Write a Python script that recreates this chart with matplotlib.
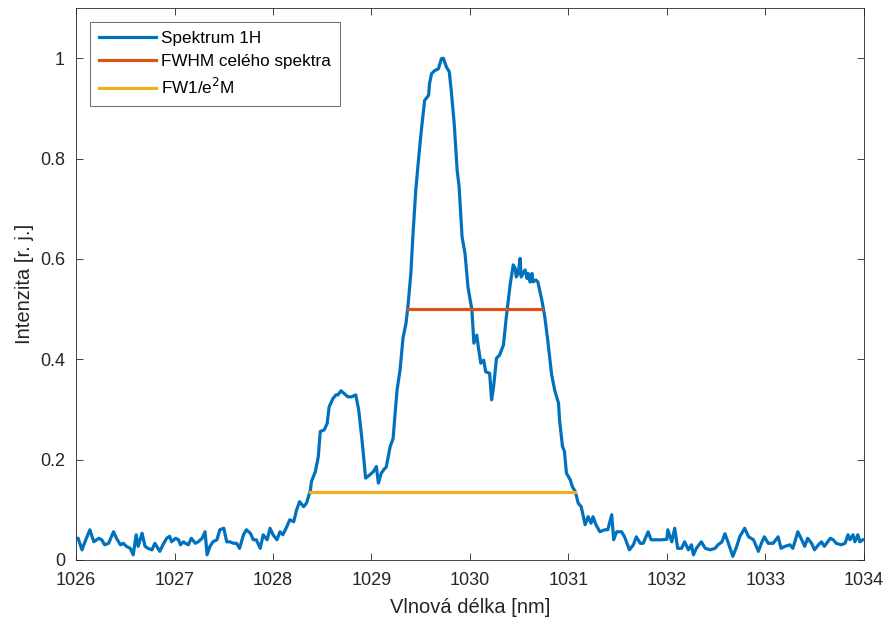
import matplotlib.pyplot as plt
from matplotlib.ticker import FuncFormatter

plt.rcParams['font.family'] = ['Liberation Sans', 'DejaVu Sans']

# spectrum (wavelength in nm, normalised intensity)
wl = [1026.00, 1026.02, 1026.06, 1026.09, 1026.14, 1026.18, 1026.23, 1026.26, 1026.29, 1026.33,
      1026.38, 1026.41, 1026.45, 1026.48, 1026.51, 1026.55, 1026.58, 1026.61, 1026.63, 1026.67,
      1026.70, 1026.73, 1026.77, 1026.80, 1026.85, 1026.89, 1026.92, 1026.95, 1026.97, 1027.01,
      1027.04, 1027.06, 1027.09, 1027.11, 1027.14, 1027.17, 1027.21, 1027.24, 1027.28, 1027.31,
      1027.33, 1027.36, 1027.39, 1027.43, 1027.46, 1027.50, 1027.53, 1027.56, 1027.60, 1027.63,
      1027.66, 1027.70, 1027.73, 1027.77, 1027.80, 1027.83, 1027.87, 1027.90, 1027.94, 1027.97,
      1028.00, 1028.04, 1028.07, 1028.10, 1028.14, 1028.17, 1028.21, 1028.24, 1028.27, 1028.31,
      1028.34, 1028.38, 1028.39, 1028.43, 1028.46, 1028.48, 1028.52, 1028.55, 1028.57, 1028.61,
      1028.64, 1028.66, 1028.69, 1028.72, 1028.76, 1028.80, 1028.84, 1028.87, 1028.90, 1028.92,
      1028.94, 1028.98, 1029.02, 1029.05, 1029.07, 1029.10, 1029.13, 1029.15, 1029.19, 1029.22,
      1029.24, 1029.26, 1029.29, 1029.32, 1029.35, 1029.37, 1029.40, 1029.42, 1029.45, 1029.48,
      1029.51, 1029.54, 1029.58, 1029.59, 1029.61, 1029.64, 1029.68, 1029.71, 1029.73, 1029.76,
      1029.79, 1029.81, 1029.84, 1029.87, 1029.89, 1029.92, 1029.95, 1029.98, 1030.02, 1030.04,
      1030.07, 1030.08, 1030.11, 1030.14, 1030.16, 1030.20, 1030.22, 1030.24, 1030.27, 1030.30,
      1030.34, 1030.37, 1030.41, 1030.44, 1030.46, 1030.47, 1030.49, 1030.51, 1030.52, 1030.56,
      1030.58, 1030.59, 1030.61, 1030.63, 1030.64, 1030.67, 1030.69, 1030.73, 1030.76, 1030.79,
      1030.83, 1030.86, 1030.90, 1030.91, 1030.94, 1030.96, 1030.98, 1031.02, 1031.04, 1031.07,
      1031.10, 1031.13, 1031.17, 1031.20, 1031.23, 1031.25, 1031.28, 1031.32, 1031.37, 1031.40,
      1031.44, 1031.46, 1031.49, 1031.54, 1031.57, 1031.62, 1031.66, 1031.69, 1031.73, 1031.76,
      1031.81, 1031.84, 1031.90, 1031.95, 1032.00, 1032.01, 1032.05, 1032.08, 1032.11, 1032.15,
      1032.18, 1032.22, 1032.25, 1032.27, 1032.30, 1032.35, 1032.39, 1032.44, 1032.49, 1032.52,
      1032.56, 1032.59, 1032.62, 1032.67, 1032.71, 1032.74, 1032.79, 1032.83, 1032.88, 1032.93,
      1032.96, 1032.99, 1033.03, 1033.08, 1033.13, 1033.16, 1033.20, 1033.25, 1033.28, 1033.33,
      1033.37, 1033.40, 1033.43, 1033.47, 1033.50, 1033.54, 1033.57, 1033.60, 1033.66, 1033.69,
      1033.72, 1033.77, 1033.81, 1033.84, 1033.86, 1033.89, 1033.91, 1033.94, 1033.96, 1033.99]

intensity = [0.043, 0.043, 0.020, 0.036, 0.060, 0.036, 0.043, 0.040, 0.030, 0.033,
             0.056, 0.043, 0.030, 0.033, 0.027, 0.023, 0.010, 0.050, 0.027, 0.053,
             0.027, 0.023, 0.020, 0.033, 0.017, 0.033, 0.043, 0.047, 0.036, 0.043,
             0.040, 0.030, 0.036, 0.033, 0.030, 0.043, 0.033, 0.036, 0.043, 0.056,
             0.010, 0.027, 0.036, 0.040, 0.060, 0.063, 0.036, 0.036, 0.033, 0.033,
             0.023, 0.050, 0.060, 0.053, 0.040, 0.040, 0.023, 0.050, 0.040, 0.063,
             0.050, 0.040, 0.056, 0.050, 0.066, 0.080, 0.076, 0.100, 0.116, 0.106,
             0.113, 0.139, 0.156, 0.176, 0.206, 0.256, 0.259, 0.272, 0.305, 0.322,
             0.329, 0.329, 0.337, 0.332, 0.325, 0.325, 0.329, 0.299, 0.246, 0.206,
             0.163, 0.169, 0.176, 0.186, 0.153, 0.173, 0.181, 0.185, 0.226, 0.242,
             0.292, 0.339, 0.378, 0.442, 0.471, 0.505, 0.571, 0.644, 0.737, 0.803,
             0.863, 0.916, 0.926, 0.950, 0.969, 0.975, 0.979, 0.999, 1.000, 0.983,
             0.973, 0.936, 0.870, 0.777, 0.744, 0.644, 0.611, 0.544, 0.498, 0.432,
             0.448, 0.432, 0.392, 0.398, 0.375, 0.372, 0.319, 0.345, 0.402, 0.408,
             0.428, 0.485, 0.551, 0.588, 0.581, 0.564, 0.571, 0.601, 0.564, 0.578,
             0.561, 0.571, 0.554, 0.571, 0.554, 0.558, 0.554, 0.518, 0.485, 0.438,
             0.369, 0.339, 0.312, 0.279, 0.226, 0.216, 0.173, 0.159, 0.146, 0.136,
             0.113, 0.106, 0.070, 0.086, 0.073, 0.086, 0.070, 0.056, 0.060, 0.060,
             0.090, 0.040, 0.056, 0.056, 0.046, 0.020, 0.030, 0.046, 0.033, 0.033,
             0.056, 0.040, 0.040, 0.040, 0.041, 0.060, 0.036, 0.063, 0.023, 0.023,
             0.036, 0.020, 0.030, 0.010, 0.023, 0.036, 0.023, 0.020, 0.023, 0.030,
             0.036, 0.052, 0.036, 0.007, 0.027, 0.046, 0.063, 0.046, 0.040, 0.017,
             0.033, 0.046, 0.033, 0.033, 0.046, 0.023, 0.027, 0.030, 0.023, 0.056,
             0.040, 0.027, 0.043, 0.033, 0.020, 0.030, 0.036, 0.027, 0.043, 0.040,
             0.033, 0.030, 0.033, 0.050, 0.040, 0.050, 0.036, 0.050, 0.036, 0.040]

# width markers
fwhm_x = [1029.37, 1030.73]
fwhm_y = [0.5, 0.5]
fw_e2_x = [1028.38, 1031.07]
fw_e2_y = [0.135, 0.135]

xticks = [1026, 1027, 1028, 1029, 1030, 1031, 1032, 1033, 1034]
yticks = [0, 0.2, 0.4, 0.6, 0.8, 1.0]

fig = plt.figure(figsize=(8.85, 6.2), dpi=100)
ax = fig.add_axes([0.086, 0.097, 0.890, 0.890])

ax.plot(wl, intensity, color='#0072BD', lw=2.3, label='Spektrum 1H')
ax.plot(fwhm_x, fwhm_y, color='#D95319', lw=2.3, label='FWHM celého spektra')
ax.plot(fw_e2_x, fw_e2_y, color='#EDB120', lw=2.3, label='FW1/e$^2$M')

ax.set_xlim(1026, 1034)
ax.set_ylim(0, 1.1)
ax.set_xticks(xticks)
ax.set_yticks(yticks)
ax.yaxis.set_major_formatter(FuncFormatter(lambda v, p: f'{v:g}'))
ax.tick_params(direction='in', top=True, right=True, labelsize=13,
               colors='#262626', length=5, width=0.6)
ax.tick_params(axis='x', pad=9)
ax.tick_params(axis='y', pad=8)
for s in ax.spines.values():
    s.set_color('#262626')
    s.set_linewidth(0.6)

ax.set_xlabel('Vlnová délka [nm]', fontsize=14.5, color='#262626', labelpad=6)
ax.set_ylabel('Intenzita [r. j.]', fontsize=14.5, color='#262626', labelpad=4)

leg = ax.legend(loc='upper left', fontsize=12.3, frameon=True, fancybox=False,
                edgecolor='#262626', handlelength=3.3, borderaxespad=0.8,
                borderpad=0.55, labelspacing=0.45, handletextpad=0.3)
leg.get_frame().set_linewidth(0.6)

fig.savefig('out.png', dpi=100)
